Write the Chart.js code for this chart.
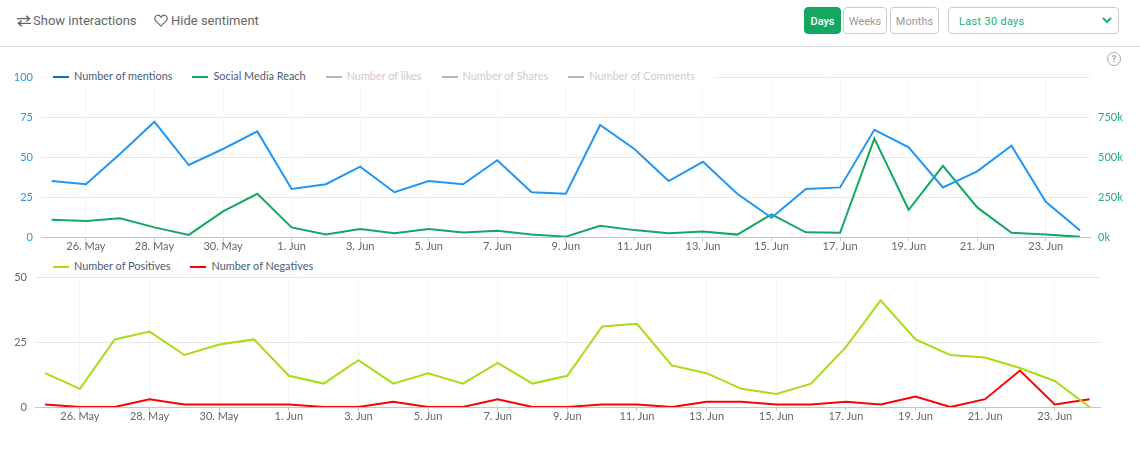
<!DOCTYPE html>
<html>
<head>
<meta charset="utf-8">
<title>Mentions</title>
<script src="https://cdn.jsdelivr.net/npm/chart.js@4"></script>
<style>
  html, body { margin: 0; padding: 0; background: #fff; }
  body { width: 1140px; height: 454px; position: relative; overflow: hidden; font-family: Roboto, sans-serif; }
  .top-link { position: absolute; top: 12px; font-size: 13px; line-height: 17px; color: #666; }
  .rule { position: absolute; left: 0; top: 46px; width: 1140px; height: 1px; background: #ddd; }
  .btn { position: absolute; top: 7px; height: 25px; line-height: 27px; text-align: center; font-size: 11px; border: 1px solid #ccc; border-radius: 4px; color: #999; }
  .btn.active { background: #12a862; border-color: #12a862; color: #fff; font-weight: 500; }
  .select { position: absolute; left: 948px; top: 7px; width: 169px; height: 25px; line-height: 27px; border: 1px solid #ccc; border-radius: 4px; color: #1fae6e; font-size: 11px; letter-spacing: 0.3px; text-indent: 10px; }
  .select svg { position: absolute; right: 6px; top: 9px; }
  .help { position: absolute; left: 1107px; top: 52px; width: 12px; height: 12px; line-height: 12px; border: 1px solid #aaa; border-radius: 50%; text-align: center; font-size: 9px; font-weight: 700; color: #aaa; }
  canvas { position: absolute; left: 0; }
  .legend { position: absolute; left: 44px; height: 20px; background: #fff; font-family: Lato, sans-serif; font-size: 10.9px; line-height: 20px; color: #4a5d78; white-space: nowrap; padding-left: 4px; padding-right: 4px; }
  .legend span { display: inline-block; margin-left: 5px; margin-right: 15px; }
  .legend i { display: inline-block; width: 16px; height: 2px; vertical-align: middle; margin-right: 5px; margin-top: -1px; }
  .legend .off { color: #ccc; }
</style>
</head>
<body>
<div class="top-link" style="left:33px">Show interactions</div>
<svg style="position:absolute;left:17px;top:15px" width="14" height="12" viewBox="0 0 15 12" fill="none" stroke="#666" stroke-width="1.5">
  <path d="M0 3.5H13M10 0.5L13.5 3.5L10 6.500M15 8.500H2M5 5.500L1.500 8.500L5 11.500"/>
</svg>
<div class="top-link" style="left:171px">Hide sentiment</div>
<svg style="position:absolute;left:154px;top:14px" width="14" height="13" viewBox="0 0 24 22" fill="none" stroke="#666" stroke-width="2">
  <path d="M12 20.500L3 11.500C0 8.500 1 3 5.500 2C8.500 1.500 10.500 3 12 5.500C13.500 3 15.500 1.500 18.500 2C23 3 24 8.500 21 11.500Z"/>
</svg>
<div class="rule"></div>
<div class="btn active" style="left:804px;width:35px">Days</div>
<div class="btn" style="left:843px;width:42px">Weeks</div>
<div class="btn" style="left:890px;width:47px">Months</div>
<div class="select">Last 30 days
  <svg width="10" height="7" viewBox="0 0 10 7" fill="none" stroke="#1fae6e" stroke-width="2"><path d="M1 1L5 5L9 1"/></svg>
</div>
<div class="help">?</div>

<canvas id="interactionsChart" width="1140" height="200" style="top:60px"></canvas>
<canvas id="sentimentChart" width="1140" height="170" style="top:260px"></canvas>
<div class="legend" id="interactionsLegend" style="top:66px"></div>
<div class="legend" id="sentimentLegend" style="top:256px"></div>

<script>
const days = [
  "25. May", "26. May", "27. May", "28. May", "29. May", "30. May", "31. May",
  "1. Jun", "2. Jun", "3. Jun", "4. Jun", "5. Jun", "6. Jun", "7. Jun", "8. Jun",
  "9. Jun", "10. Jun", "11. Jun", "12. Jun", "13. Jun", "14. Jun", "15. Jun",
  "16. Jun", "17. Jun", "18. Jun", "19. Jun", "20. Jun", "21. Jun", "22. Jun",
  "23. Jun", "24. Jun",
]
const mentions = [35, 33, 52, 72, 45, 55, 66, 30, 33, 44, 28, 35, 33, 48, 28, 27, 70, 55, 35, 47, 27, 12, 30, 31, 67, 56, 31, 41, 57, 22, 4]
const reach = [108, 100, 117, 60, 13, 160, 270, 60, 15, 50, 23, 50, 28, 39, 16, 2, 70, 43, 23, 35, 15, 141, 29, 26, 615, 170, 445, 185, 26, 15, 1]
const positives = [13, 7, 26, 29, 20, 24, 26, 12, 9, 18, 9, 13, 9, 17, 9, 12, 31, 32, 16, 13, 7, 5, 9, 23, 41, 26, 20, 19, 15, 10, 0]
const negatives = [1, 0, 0, 3, 1, 1, 1, 1, 0, 0, 2, 0, 0, 3, 0, 0, 1, 1, 0, 2, 2, 1, 1, 2, 1, 4, 0, 3, 14, 1, 3]
const leftTicks = [0, 25, 50, 75, 100]
const rightTicks = [0, 250, 500, 750]
const sentimentTicks = [0, 25, 50]

const tickFont = { family: "Lato, sans-serif", size: 11 }
const toPoints = (values) => values.map((v, i) => ({ x: i, y: v }))
const line = (label, values, color, yAxisID) => ({
  label,
  data: toPoints(values),
  borderColor: color,
  borderWidth: 2,
  pointRadius: 0,
  tension: 0,
  yAxisID,
})
const fixedTicks = (values) => (scale) => {
  scale.ticks = values.map((v) => ({ value: v }))
}

function dayAxis(min, max) {
  return {
    type: "linear",
    min,
    max,
    afterBuildTicks: fixedTicks(days.map((d, i) => i).filter((i) => i % 2 === 1)),
    afterFit: (scale) => { scale.height = 23 },
    // the vertical grid is dotted, the horizontal one solid
    border: { color: "#b9c8dc", width: 1, dash: [1, 3] },
    grid: { color: "#dcdcdc", tickLength: 4, tickColor: "#b9c8dc" },
    ticks: {
      autoSkip: false,
      maxRotation: 0,
      padding: -1,
      color: "#666",
      font: tickFont,
      callback: (v) => days[v],
    },
  }
}

function valueAxis(ticks, width, color, position, format) {
  return {
    position,
    min: ticks[0],
    max: position === "right" ? 1000 : ticks[ticks.length - 1],
    afterBuildTicks: fixedTicks(ticks),
    afterFit: (scale) => { scale.width = width },
    border: { display: false },
    grid: { color: "#e8e8e8", drawTicks: false, drawOnChartArea: position === "left" },
    ticks: { padding: 8, color, font: tickFont, callback: format },
  }
}

new Chart(document.getElementById("interactionsChart"), {
  type: "line",
  data: {
    datasets: [
      line("Number of mentions", mentions, "#2196f3", "y"),
      line("Social Media Reach", reach, "#12a862", "y2"),
    ],
  },
  options: {
    responsive: false,
    animation: false,
    layout: { padding: { top: 17 } },
    plugins: { legend: { display: false }, tooltip: { enabled: false } },
    scales: {
      x: dayAxis(-0.31, 30.29),
      y: valueAxis(leftTicks, 41, "#2a96e0", "left", (v) => v),
      y2: valueAxis(rightTicks, 50, "#2fa87a", "right", (v) => v + "k"),
    },
  },
})

new Chart(document.getElementById("sentimentChart"), {
  type: "line",
  data: {
    datasets: [
      line("Number of Positives", positives, "#a8dc14", "y"),
      line("Number of Negatives", negatives, "#ff0000", "y"),
    ],
  },
  options: {
    responsive: false,
    animation: false,
    layout: { padding: { top: 17, right: 40 } },
    plugins: { legend: { display: false }, tooltip: { enabled: false } },
    scales: {
      x: dayAxis(-0.29, 30.3),
      y: valueAxis(sentimentTicks, 35, "#666", "left", (v) => v),
    },
  },
})

function buildLegend(id, items) {
  document.getElementById(id).innerHTML = items
    .map(([label, color, off]) => `<span class="${off ? "off" : ""}"><i style="background:${color}"></i>${label}</span>`)
    .join("")
}
buildLegend("interactionsLegend", [
  ["Number of mentions", "#0a6fc9"],
  ["Social Media Reach", "#12a862"],
  ["Number of likes", "#b5b5b5", true],
  ["Number of Shares", "#b5b5b5", true],
  ["Number of Comments", "#b5b5b5", true],
])
buildLegend("sentimentLegend", [
  ["Number of Positives", "#a8dc14"],
  ["Number of Negatives", "#ff0000"],
])
</script>
</body>
</html>
